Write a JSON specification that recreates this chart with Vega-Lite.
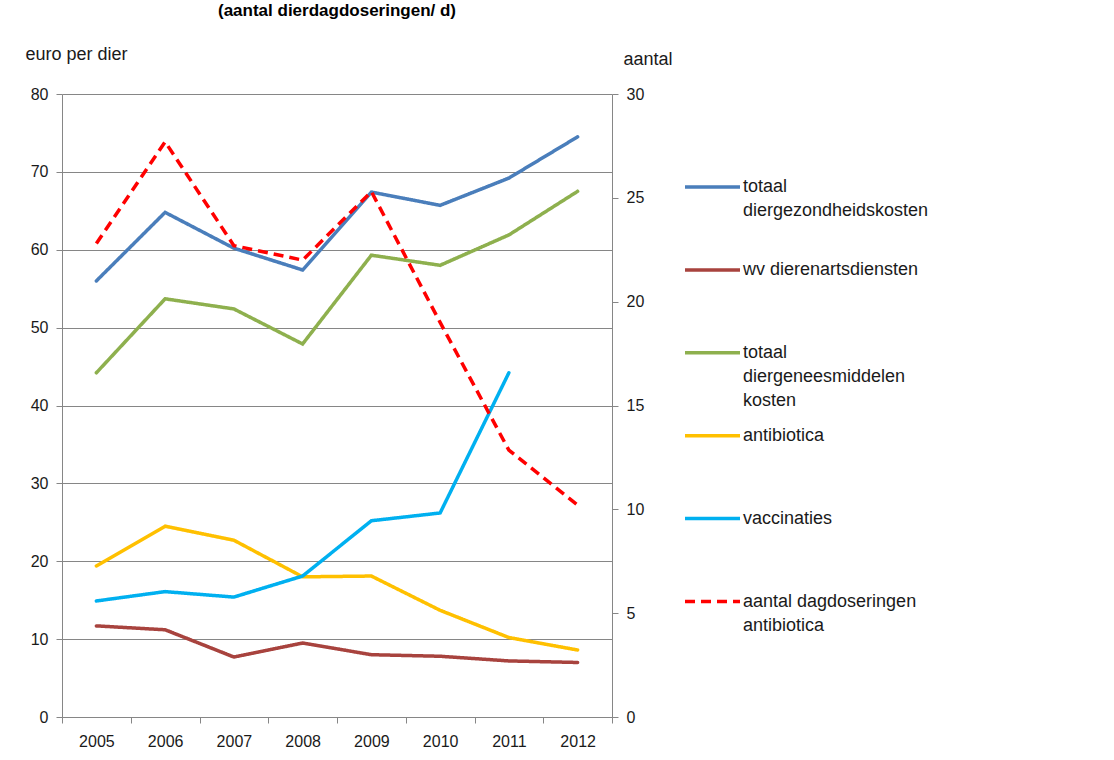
{
  "$schema": "https://vega.github.io/schema/vega-lite/v6.json",
  "autosize": {"type": "none"},
  "width": 550,
  "height": 623,
  "padding": {"left": 62, "top": 94, "right": 502, "bottom": 43},
  "background": "white",
  "title": {
    "text": "(aantal dierdagdoseringen/ d)",
    "anchor": "start",
    "frame": "group",
    "dx": 156,
    "offset": 25,
    "baseline": "top",
    "font": "Liberation Sans",
    "fontSize": 17,
    "fontWeight": "bold",
    "color": "#000000"
  },
  "config": {
    "view": {"stroke": null},
    "font": "Liberation Sans",
    "axis": {
      "labelFont": "Liberation Sans",
      "labelFontSize": 16,
      "labelColor": "#1a1a1a",
      "titleFont": "Liberation Sans",
      "titleFontSize": 18,
      "titleFontWeight": "normal",
      "titleColor": "#1a1a1a",
      "domainColor": "#868686",
      "tickColor": "#868686",
      "gridColor": "#868686",
      "tickSize": 6
    }
  },
  "datasets": {
    "kosten": [
      {"jaar": "2005", "reeks": "totaal diergezondheidskosten", "waarde": 56.0},
      {"jaar": "2006", "reeks": "totaal diergezondheidskosten", "waarde": 64.8},
      {"jaar": "2007", "reeks": "totaal diergezondheidskosten", "waarde": 60.2},
      {"jaar": "2008", "reeks": "totaal diergezondheidskosten", "waarde": 57.4},
      {"jaar": "2009", "reeks": "totaal diergezondheidskosten", "waarde": 67.4},
      {"jaar": "2010", "reeks": "totaal diergezondheidskosten", "waarde": 65.7},
      {"jaar": "2011", "reeks": "totaal diergezondheidskosten", "waarde": 69.2},
      {"jaar": "2012", "reeks": "totaal diergezondheidskosten", "waarde": 74.5},
      {"jaar": "2005", "reeks": "wv dierenartsdiensten", "waarde": 11.7},
      {"jaar": "2006", "reeks": "wv dierenartsdiensten", "waarde": 11.2},
      {"jaar": "2007", "reeks": "wv dierenartsdiensten", "waarde": 7.7},
      {"jaar": "2008", "reeks": "wv dierenartsdiensten", "waarde": 9.5},
      {"jaar": "2009", "reeks": "wv dierenartsdiensten", "waarde": 8.0},
      {"jaar": "2010", "reeks": "wv dierenartsdiensten", "waarde": 7.8},
      {"jaar": "2011", "reeks": "wv dierenartsdiensten", "waarde": 7.2},
      {"jaar": "2012", "reeks": "wv dierenartsdiensten", "waarde": 7.0},
      {"jaar": "2005", "reeks": "totaal diergeneesmiddelen kosten", "waarde": 44.2},
      {"jaar": "2006", "reeks": "totaal diergeneesmiddelen kosten", "waarde": 53.7},
      {"jaar": "2007", "reeks": "totaal diergeneesmiddelen kosten", "waarde": 52.4},
      {"jaar": "2008", "reeks": "totaal diergeneesmiddelen kosten", "waarde": 47.9},
      {"jaar": "2009", "reeks": "totaal diergeneesmiddelen kosten", "waarde": 59.3},
      {"jaar": "2010", "reeks": "totaal diergeneesmiddelen kosten", "waarde": 58.0},
      {"jaar": "2011", "reeks": "totaal diergeneesmiddelen kosten", "waarde": 61.9},
      {"jaar": "2012", "reeks": "totaal diergeneesmiddelen kosten", "waarde": 67.5},
      {"jaar": "2005", "reeks": "antibiotica", "waarde": 19.4},
      {"jaar": "2006", "reeks": "antibiotica", "waarde": 24.5},
      {"jaar": "2007", "reeks": "antibiotica", "waarde": 22.7},
      {"jaar": "2008", "reeks": "antibiotica", "waarde": 18.0},
      {"jaar": "2009", "reeks": "antibiotica", "waarde": 18.1},
      {"jaar": "2010", "reeks": "antibiotica", "waarde": 13.7},
      {"jaar": "2011", "reeks": "antibiotica", "waarde": 10.2},
      {"jaar": "2012", "reeks": "antibiotica", "waarde": 8.6},
      {"jaar": "2005", "reeks": "vaccinaties", "waarde": 14.9},
      {"jaar": "2006", "reeks": "vaccinaties", "waarde": 16.1},
      {"jaar": "2007", "reeks": "vaccinaties", "waarde": 15.4},
      {"jaar": "2008", "reeks": "vaccinaties", "waarde": 18.1},
      {"jaar": "2009", "reeks": "vaccinaties", "waarde": 25.2},
      {"jaar": "2010", "reeks": "vaccinaties", "waarde": 26.2},
      {"jaar": "2011", "reeks": "vaccinaties", "waarde": 44.2}
    ],
    "doseringen": [
      {"jaar": "2005", "reeks": "aantal dagdoseringen antibiotica", "aantal": 22.8},
      {"jaar": "2006", "reeks": "aantal dagdoseringen antibiotica", "aantal": 27.7},
      {"jaar": "2007", "reeks": "aantal dagdoseringen antibiotica", "aantal": 22.7},
      {"jaar": "2008", "reeks": "aantal dagdoseringen antibiotica", "aantal": 22.0},
      {"jaar": "2009", "reeks": "aantal dagdoseringen antibiotica", "aantal": 25.3},
      {"jaar": "2010", "reeks": "aantal dagdoseringen antibiotica", "aantal": 19.0},
      {"jaar": "2011", "reeks": "aantal dagdoseringen antibiotica", "aantal": 12.85},
      {"jaar": "2012", "reeks": "aantal dagdoseringen antibiotica", "aantal": 10.2}
    ]
  },
  "encoding": {
    "x": {
      "field": "jaar",
      "type": "ordinal",
      "bandPosition": 0.5,
      "scale": {"type": "band", "paddingInner": 0, "paddingOuter": 0},
      "axis": {
        "title": null,
        "labelAngle": 0,
        "tickBand": "extent",
        "labelPadding": 10,
        "domainColor": "#868686"
      }
    },
    "color": {
      "field": "reeks",
      "type": "nominal",
      "scale": {
        "domain": ["totaal diergezondheidskosten", "wv dierenartsdiensten", "totaal diergeneesmiddelen kosten", "antibiotica", "vaccinaties", "aantal dagdoseringen antibiotica"],
        "range": ["#4a7ebb", "#a8433e", "#8eb04e", "#ffc000", "#00b0f0", "#ff0000"]
      },
      "legend": {
        "title": null,
        "orient": "none",
        "legendX": 621,
        "legendY": 81,
        "clipHeight": 24,
        "gridAlign": "all",
        "rowPadding": 13.9,
        "symbolType": "stroke",
        "symbolSize": 3025,
        "symbolStrokeWidth": 3.5,
        "labelFont": "Liberation Sans",
        "labelFontSize": 18,
        "labelColor": "#1a1a1a",
        "labelLimit": 400,
        "labelOffset": 1,
        "labelBaseline": "top",
        "labelExpr": "datum.label == 'totaal diergezondheidskosten' ? ['totaal', 'diergezondheidskosten'] : datum.label == 'totaal diergeneesmiddelen kosten' ? ['totaal', 'diergeneesmiddelen', 'kosten'] : datum.label == 'aantal dagdoseringen antibiotica' ? ['aantal dagdoseringen', 'antibiotica'] : datum.label",
        "encode": {
          "labels": {"update": {"lineHeight": {"value": 24}, "dy": {"value": -9}}}
        }
      }
    },
    "strokeDash": {
      "field": "reeks",
      "type": "nominal",
      "scale": {
        "domain": ["totaal diergezondheidskosten", "wv dierenartsdiensten", "totaal diergeneesmiddelen kosten", "antibiotica", "vaccinaties", "aantal dagdoseringen antibiotica"],
        "range": [[1, 0], [1, 0], [1, 0], [1, 0], [1, 0], [10, 6]]
      },
      "legend": null
    }
  },
  "layer": [
    {
      "data": {"name": "kosten"},
      "mark": {"type": "line", "strokeWidth": 3.5, "strokeCap": "round"},
      "encoding": {
        "y": {
          "field": "waarde",
          "type": "quantitative",
          "scale": {"domain": [0, 80], "nice": false},
          "axis": {
            "values": [0, 10, 20, 30, 40, 50, 60, 70, 80],
            "grid": true,
            "labelPadding": 8,
            "title": "euro per dier",
            "titleAngle": 0,
            "titleAlign": "left",
            "titleBaseline": "alphabetic",
            "titleX": -37,
            "titleY": -35
          }
        }
      }
    },
    {
      "data": {"name": "doseringen"},
      "mark": {"type": "line", "strokeWidth": 3.5},
      "encoding": {
        "y": {
          "field": "aantal",
          "type": "quantitative",
          "scale": {"domain": [0, 30], "nice": false},
          "axis": {
            "orient": "right",
            "values": [0, 5, 10, 15, 20, 25, 30],
            "grid": false,
            "labelPadding": 8,
            "title": "aantal",
            "titleAngle": 0,
            "titleAlign": "left",
            "titleBaseline": "alphabetic",
            "titleX": 11,
            "titleY": -30
          }
        }
      }
    }
  ],
  "resolve": {"scale": {"y": "independent"}}
}
